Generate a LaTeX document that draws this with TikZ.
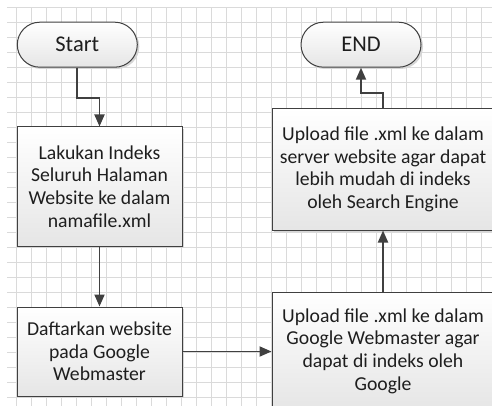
\documentclass[tikz,border=0pt]{standalone}
\usepackage{fontspec}
\setmainfont{Carlito}
\usetikzlibrary{arrows.meta,calc}
\definecolor{gridc}{HTML}{DADADA}
\definecolor{linec}{HTML}{404040}
\definecolor{txtc}{HTML}{1E1E1E}
\tikzset{
  gridline/.style={draw=gridc,line width=0.8pt},
  boxbase/.style={draw=linec,line width=1pt,top color=white,bottom color=black!10,
     text=txtc,align=center,inner sep=0pt,
     font=\fontsize{19.7pt}{22.7pt}\selectfont},
  termbox/.style={boxbase,rounded corners=22.5pt,minimum width=120pt,minimum height=45pt,
     font=\fontsize{22.5pt}{26pt}\selectfont},
  procbox/.style={boxbase},
  arr/.style={draw=linec,line width=1.9pt,-{Triangle[length=12pt,width=10pt]}},
  shadowbox/.style={fill=black!16,draw=none},
}
\begin{document}
\begin{tikzpicture}[x=1pt,y=-1pt]
\useasboundingbox (0,0) rectangle (492,406);
\clip (0,0) rectangle (492,406);
\fill[white] (0,0) rectangle (492,406);
% grid
\foreach \k in {0,...,31} {\draw[gridline] ({16.7+15*\k},7.3) -- ({16.7+15*\k},406);}
\foreach \k in {0,...,26} {\draw[gridline] (7.3,{7.3+15*\k}) -- (492,{7.3+15*\k});}
% shadows
\fill[shadowbox,rounded corners=22.5pt] (18.8,23.8) rectangle (139.3,69);
\fill[shadowbox,rounded corners=22.5pt] (302.5,23.8) rectangle (423,69);
\fill[shadowbox] (19,129) rectangle (184,248);
\fill[shadowbox] (19,309) rectangle (184,398);
\fill[shadowbox] (274,110.5) rectangle (496,232);
\fill[shadowbox] (274,294) rectangle (496,412);
% nodes
\node[termbox] (start) at (77.3,44.7) {Start};
\node[termbox] (endn) at (361,44.7) {END};
\node[procbox,minimum width=165pt,minimum height=119pt] (b1) at (99.5,186.5)
  {Lakukan Indeks\\Seluruh Halaman\\Website ke dalam\\namafile.xml};
\node[procbox,minimum width=165pt,minimum height=89pt] (b2) at (99.5,351.5)
  {Daftarkan website\\pada Google\\Webmaster};
\node[procbox,minimum width=222pt,minimum height=118pt] (b3) at (383,351)
  {Upload file .xml ke dalam\\Google Webmaster agar\\dapat di indeks oleh\\Google};
\node[procbox,minimum width=222pt,minimum height=121.5pt] (b4) at (383,169.25)
  {Upload file .xml ke dalam\\server website agar dapat\\lebih mudah di indeks\\oleh Search Engine};
% connectors
\draw[arr] (start.south) -- ++(0,30.1) -| (b1.north);
\draw[arr] (b1.south) -- (b2.north);
\draw[arr] (b2.east) -- (b2.east -| b3.west);
\draw[arr] (b3.north) -- (b4.south);
\draw[arr] (b4.north) -- ++(0,-15.2) -| (endn.south);
\end{tikzpicture}
\end{document}
